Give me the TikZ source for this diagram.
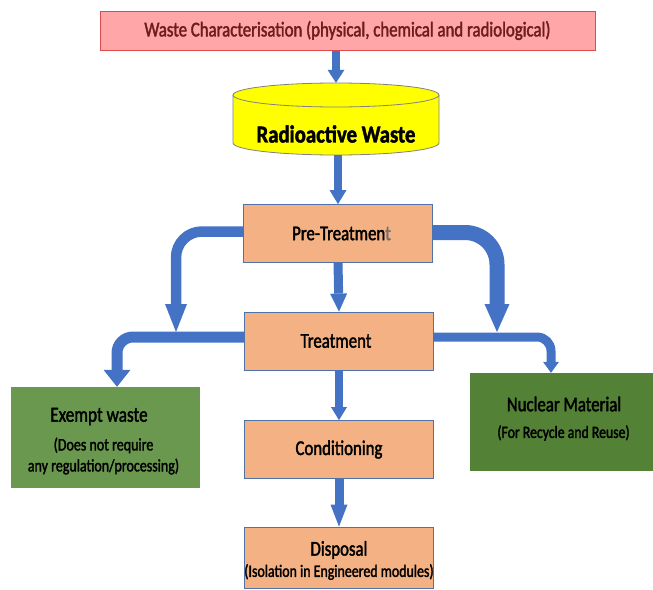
\documentclass[tikz,border=0pt]{standalone}
\usepackage{fontspec}
\setmainfont{Carlito}[FakeStretch=0.8, FakeBold=1.8, BoldFont={Carlito Bold}, BoldFeatures={FakeStretch=0.85}]
\usetikzlibrary{arrows.meta,calc}
\definecolor{arrblue}{HTML}{4472C4}
\definecolor{orangefill}{HTML}{F4B183}
\definecolor{boxedge}{HTML}{4F73A8}
\definecolor{pinkfill}{HTML}{FFA7A8}
\definecolor{pinkedge}{HTML}{DD4B4B}
\definecolor{darkred}{HTML}{6E1C1C}
\definecolor{greenA}{HTML}{6A984E}
\definecolor{greenB}{HTML}{538135}
\definecolor{cylfill}{HTML}{FFFF00}
\definecolor{cyledge}{HTML}{808080}
\definecolor{tgray}{HTML}{707070}
\begin{document}
\begin{tikzpicture}[x=1pt,y=-1pt,
  box/.style={draw=boxedge, line width=0.8pt, fill=orangefill, minimum width=189pt,
    minimum height=58pt, inner sep=0pt, align=center},
  flow/.style n args={3}{draw=arrblue, line width=#1pt,
    -{Triangle[width=#2pt,length=#3pt,line width=0pt]}},
  fsz/.style={font=\fontsize{#1}{#1}\selectfont}
]
\useasboundingbox (0,0) rectangle (653,589);

% top box
\node[draw=pinkedge, line width=1pt, fill=pinkfill, minimum width=495pt, minimum height=39pt,
  inner sep=0pt, text=darkred, fsz=21] (wc) at (347.5,30.5)
  {Waste Characterisation (physical, chemical and radiological)};

% cylinder
\fill[cylfill] (233,95) -- (233,143) arc[start angle=180, end angle=0, x radius=103, y radius=12] -- (439,95) -- cycle;
\draw[cyledge, line width=0.8pt] (233,95) -- (233,143) arc[start angle=180, end angle=0, x radius=103, y radius=12] -- (439,95);
\draw[cyledge, line width=0.8pt, fill=cylfill] (336,95) ellipse[x radius=103, y radius=12];
\node[minimum width=206pt, minimum height=72pt, inner sep=0pt] (rw) at (336,119) {};
\node[inner sep=0pt, font=\bfseries\fontsize{24.4}{24.4}\selectfont] (rwt) at (336,134) {Radioactive Waste};

% orange boxes
\node[box, fsz=21] (pt) at (338,233.5) {\hspace*{7pt}Pre-Treatmen{\color{tgray}t}};
\node[box, fsz=21] (tr) at (339,341) {Treatment\hspace*{6pt}};
\node[box, fsz=21] (cd) at (339,449.5) {Conditioning};
\node[box, minimum height=61pt] (dp) at (339,557.5) {};
\node[fsz=21, inner sep=0pt] (dpt) at (339,550) {Disposal};
\node[fsz=17.4, inner sep=0pt] (dps) at (339,572) {(Isolation in Engineered modules)};

% green boxes
\node[fill=greenA, minimum width=189pt, minimum height=101pt, inner sep=0pt] (ex) at (105,437.5) {};
\node[fsz=21.5, inner sep=0pt] (ext) at (99,416.5) {Exempt waste};
\node[inner sep=0pt, align=center, font=\fontsize{17.5}{21}\selectfont] (exs) at (103.5,456) {(Does not require\\any regulation/processing)};
\node[fill=greenB, minimum width=183pt, minimum height=98pt, inner sep=0pt] (nm) at (561.5,422) {};
\node[fsz=21, inner sep=0pt] (nmt) at (564,404) {Nuclear Material};
\node[fsz=17.2, inner sep=0pt] (nms) at (563.5,433) {(For Recycle and Reuse)};

% straight arrows
\draw[flow={8}{17}{13}] (rw.north |- wc.south) -- (rw.north);
\draw[flow={8}{17}{14}] (pt.north |- rw.south) -- (pt.north);
\draw[flow={9}{17}{18}] (pt.south) -- (tr.north);
\draw[flow={8}{16}{13}] (tr.south) -- (cd.north);
\draw[flow={9}{17}{22}] (cd.south) -- (dp.north);

% helper coordinates
\coordinate (ltip) at (176,332);
\coordinate (rtip) at (497,332);
\coordinate (pl) at ($(pt.west)+(0,-2)$);
\coordinate (pr) at ($(pt.east)+(0,-1)$);
\coordinate (tl) at ($(tr.west)+(0,-4)$);
\coordinate (trr) at ($(tr.east)+(0,-4)$);
\coordinate (exa) at ($(ex.north)+(12,0)$);
\coordinate (nma) at ($(nm.north)+(-10.5,0)$);

% curved branches from pre-treatment
\draw[flow={10.5}{22}{28}, rounded corners=26pt] (pl) -- (ltip |- pl) -- (ltip);
\draw[flow={15}{25}{28}, rounded corners=32pt] (pr) -- (rtip |- pr) -- (rtip);

% branches from treatment
\draw[flow={11}{27}{17}, rounded corners=16pt] (tl) -- (exa |- tl) -- (exa);
\draw[flow={9}{16}{11}, rounded corners=14pt] (trr) -- (nma |- trr) -- (nma);
\end{tikzpicture}
\end{document}
